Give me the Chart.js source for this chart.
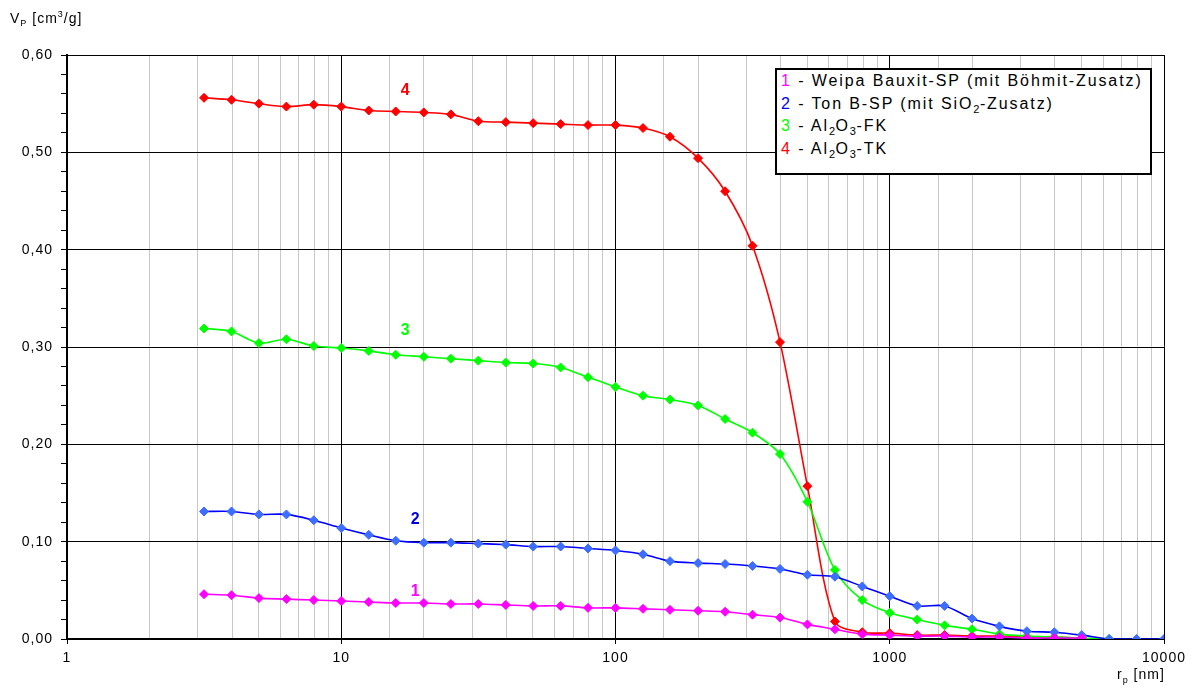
<!DOCTYPE html>
<html>
<head>
<meta charset="utf-8">
<script src="https://cdn.jsdelivr.net/npm/chart.js@4.4.0/dist/chart.umd.min.js"></script>
<style>
body{margin:0;background:#fff;font-family:"Liberation Sans",Arial,sans-serif;color:#000}
#wrap{position:relative;width:1198px;height:689px}
#c{position:absolute;left:0;top:0}
.ttl{position:absolute;font-size:14px;letter-spacing:1px;white-space:nowrap}
.ttl sub,.ttl sup{font-size:9px}
#legend{position:absolute;left:775px;top:68px;width:377px;height:107px;box-sizing:border-box;border:2px solid #000;background:#fff;padding:0 0 0 4px;font-size:16px;line-height:22.7px;letter-spacing:1.9px;white-space:nowrap}
#legend sub{font-size:11px;line-height:0;letter-spacing:0.5px}
</style>
</head>
<body>
<div id="wrap">
<canvas id="c" width="1198" height="689"></canvas>
<div class="ttl" style="left:10px;top:9px">V<sub>P</sub> [cm<sup>3</sup>/g]</div>
<div class="ttl" style="left:1117px;top:666px">r<sub>p</sub> [nm]</div>
<div id="legend"></div>
</div>
<script>
// pore radius r_p [nm], 10 points per decade
const rp=[3.16,3.98,5.01,6.31,7.94,10,12.6,15.8,20,25.1,31.6,39.8,50.1,63.1,79.4,100,126,158,200,251,316,398,501,631,794,1000,1259,1585,1995,2512,3162,3981,5012,6310,7943,10000];

// cumulative pore volume V_P [cm3/g]
const vWeipa=[0.046,0.045,0.042,0.041,0.040,0.039,0.038,0.037,0.037,0.036,0.036,0.035,0.034,0.034,0.032,0.032,0.031,0.030,0.029,0.028,0.025,0.022,0.015,0.010,0.005,0.004,0.003,0.003,0.002,0.002,0.001,0.001,0.001];
const vTonB=[0.131,0.131,0.128,0.128,0.122,0.114,0.107,0.101,0.099,0.099,0.098,0.097,0.095,0.095,0.093,0.091,0.087,0.080,0.078,0.077,0.075,0.072,0.066,0.064,0.054,0.044,0.034,0.034,0.021,0.013,0.008,0.007,0.004,0.000,0.000,0.000];
const vFK=[0.319,0.316,0.304,0.308,0.301,0.299,0.296,0.292,0.290,0.288,0.286,0.284,0.283,0.279,0.269,0.259,0.250,0.246,0.240,0.226,0.212,0.190,0.141,0.071,0.040,0.027,0.020,0.014,0.010,0.005,0.003,0.002,0.001,0.000];
const vTK=[0.556,0.554,0.550,0.547,0.549,0.547,0.543,0.542,0.541,0.539,0.532,0.531,0.530,0.529,0.528,0.528,0.525,0.516,0.494,0.460,0.404,0.305,0.157,0.018,0.007,0.006,0.004,0.004,0.003,0.003,0.002,0.002,0.001];

const yTicks=[0,0.1,0.2,0.3,0.4,0.5,0.6];
const xLabels=[1,10,100,1000,10000];

const series=[
  {num:'1',html:'Weipa Bauxit-SP (mit Böhmit-Zusatz)',data:vWeipa,line:'#ff00ff',mark:'#ff00ff',lbl:{x:18.6,y:0.049}},
  {num:'2',html:'Ton B-SP (mit SiO<sub>2</sub>-Zusatz)',data:vTonB,line:'#0000ff',mark:'#3d6eff',lblColor:'#0000dd',lbl:{x:18.6,y:0.123}},
  {num:'3',html:'Al<sub>2</sub>O<sub>3</sub>-FK',data:vFK,line:'#00ff00',mark:'#00ff00',lbl:{x:17.1,y:0.317}},
  {num:'4',html:'Al<sub>2</sub>O<sub>3</sub>-TK',data:vTK,line:'#ff0000',mark:'#ff0000',lbl:{x:17.1,y:0.563}}
];

document.getElementById('legend').innerHTML=series.map(s=>
  `<div><span style="color:${s.line}">${s.num}</span> - ${s.html}</div>`).join('');

const isPow10=v=>{const l=Math.log10(v);return Math.abs(l-Math.round(l))<1e-9;};
const isTenth=v=>Math.abs(v*10-Math.round(v*10))<1e-6;

const spacing={
  id:'spacing',
  beforeDraw(chart){chart.ctx.letterSpacing='1px';}
};

const curveLabels={
  id:'curveLabels',
  afterDatasetsDraw(chart){
    const {ctx,scales:{x,y}}=chart;
    ctx.save();
    ctx.letterSpacing='0px';
    ctx.font='bold 16px "Liberation Sans", Arial, sans-serif';
    ctx.textAlign='center';ctx.textBaseline='middle';
    series.forEach(s=>{
      ctx.fillStyle=s.lblColor||s.line;
      ctx.fillText(s.num,x.getPixelForValue(s.lbl.x),y.getPixelForValue(s.lbl.y));
    });
    ctx.restore();
  }
};

new Chart(document.getElementById('c'),{
  type:'line',
  data:{datasets:series.map(s=>({
    label:s.num,
    data:s.data.map((v,i)=>({x:rp[i],y:v})),
    borderColor:s.line,backgroundColor:s.mark,
    pointBackgroundColor:s.mark,pointBorderColor:s.mark,
    pointStyle:'rectRot',pointRadius:4.5,pointBorderWidth:1,
    borderWidth:1.6,tension:0.3,fill:false
  }))},
  options:{
    responsive:false,animation:false,
    layout:{padding:{top:55,right:34,left:0,bottom:0}},
    plugins:{legend:{display:false},tooltip:{enabled:false}},
    scales:{
      x:{
        type:'logarithmic',min:1,max:10000,
        afterFit:sc=>{sc.height=50;},
        ticks:{autoSkip:false,maxRotation:0,padding:6,color:'#000',
          font:{size:14,family:'"Liberation Sans", Arial, sans-serif'},
          callback:v=>xLabels.includes(v)?String(v):''},
        grid:{color:c=>isPow10(c.tick.value)?'#000':'#c8c8c8',lineWidth:1,
          tickColor:c=>isPow10(c.tick.value)?'#000':'rgba(0,0,0,0)',tickLength:5},
        border:{display:true,color:'#000',width:2}
      },
      y:{
        min:0,max:0.6,
        afterFit:sc=>{sc.width=67;},
        ticks:{stepSize:0.02,autoSkip:false,padding:8,color:'#000',
          font:{size:14,family:'"Liberation Sans", Arial, sans-serif'},
          callback:v=>yTicks.some(t=>Math.abs(t-v)<1e-6)?v.toFixed(2).replace('.',','):''},
        grid:{color:c=>isTenth(c.tick.value)?'#000':'rgba(0,0,0,0)',lineWidth:1,
          tickColor:'#000',tickLength:6},
        border:{display:true,color:'#000',width:2}
      }
    }
  },
  plugins:[spacing,curveLabels]
});
</script>
</body>
</html>
